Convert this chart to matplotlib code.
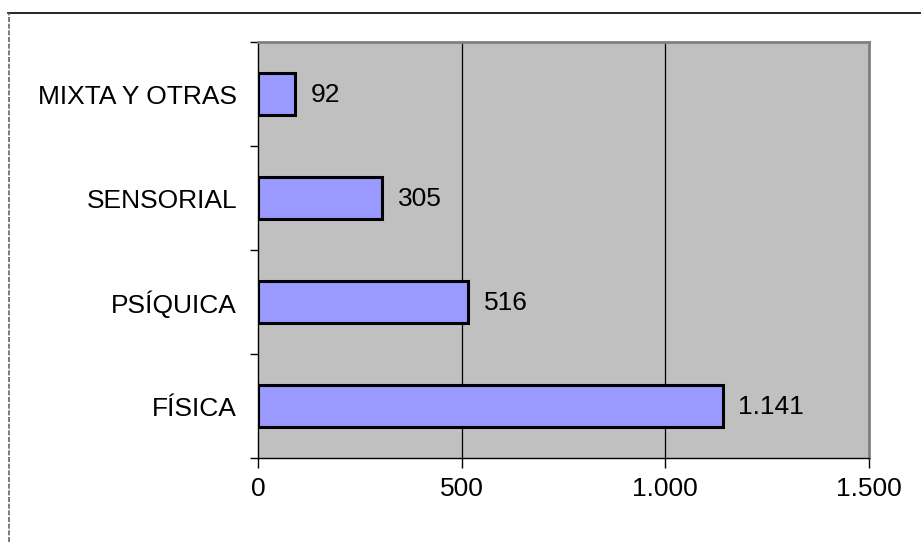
import matplotlib
matplotlib.use("Agg")
import matplotlib.pyplot as plt
from matplotlib.lines import Line2D
from matplotlib.ticker import FixedLocator

categories = ["FÍSICA", "PSÍQUICA", "SENSORIAL", "MIXTA Y OTRAS"]
values = [1141, 516, 305, 92]
value_labels = ["1.141", "516", "305", "92"]
xticks = [0, 500, 1000, 1500]
xtick_labels = ["0", "500", "1.000", "1.500"]

plt.rcParams['font.family'] = ['Liberation Sans', 'DejaVu Sans']
FS = 19

fig = plt.figure(figsize=(9.21, 5.42), dpi=100)
ax = fig.add_axes([258/921, 1-458/542, (869-258)/921, (458-42)/542])
ax.set_facecolor('#C0C0C0')

ypos = list(range(len(categories)))
ax.barh(ypos, values, height=0.4, color='#9999FF', edgecolor='black', linewidth=2.2, zorder=3)
for y, v, lab in zip(ypos, values, value_labels):
    ax.annotate(lab, (v, y), xytext=(11, -1), textcoords='offset points',
                va='center', ha='left', fontsize=FS, color='black', zorder=4)

ax.set_xlim(0, 1500)
ax.set_ylim(-0.5, len(categories)-0.5)
ax.set_xticks(xticks)
ax.set_xticklabels(xtick_labels, fontsize=FS)
ax.set_yticks(ypos)
ax.set_yticklabels(categories, fontsize=FS)
ax.yaxis.set_minor_locator(FixedLocator([i-0.5 for i in range(len(categories)+1)]))
ax.tick_params(axis='y', which='major', length=0, pad=15)
ax.tick_params(axis='y', which='minor', length=6, width=1, direction='out')
ax.tick_params(axis='x', which='major', length=7, width=1, direction='out', pad=7)

for x in xticks[1:-1]:
    ax.axvline(x, color='black', linewidth=0.9, zorder=1)

ax.spines['left'].set_color('black')
ax.spines['bottom'].set_color('black')
ax.spines['left'].set_linewidth(1)
ax.spines['bottom'].set_linewidth(1)
ax.spines['top'].set_color('#808080')
ax.spines['right'].set_color('#808080')
ax.spines['top'].set_linewidth(2)
ax.spines['right'].set_linewidth(2)

# outer frame lines
fig.add_artist(Line2D([8/921, 1], [1-13/542, 1-13/542], color='black', linewidth=1.2, transform=fig.transFigure))
fig.add_artist(Line2D([8.5/921, 8.5/921], [0, 1-13/542], color='#666666', linewidth=1.2, linestyle=(0, (3, 1)), transform=fig.transFigure))

fig.savefig('out.png', dpi=100)
